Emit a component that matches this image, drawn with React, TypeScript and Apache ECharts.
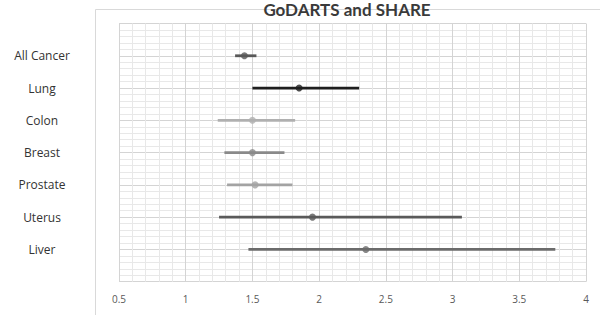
import React, { useEffect, useRef } from "react";
import * as echarts from "echarts";

const categories = ["All Cancer", "Lung", "Colon", "Breast", "Prostate", "Uterus", "Liver"];
const estimates = [1.44, 1.85, 1.5, 1.5, 1.52, 1.95, 2.35];
const lowerCI = [1.37, 1.5, 1.24, 1.29, 1.31, 1.25, 1.47];
const upperCI = [1.53, 2.3, 1.82, 1.74, 1.8, 3.07, 3.77];
const colors = ["#595959", "#1f1f1f", "#b0b0b0", "#8a8a8a", "#a3a3a3", "#5a5a5a", "#6b6b6b"];
const xTicks = [0.5, 1, 1.5, 2, 2.5, 3, 3.5, 4];
const title = "GoDARTS and SHARE";

export default function App() {
  const ref = useRef<HTMLDivElement>(null);
  useEffect(() => {
    if (!ref.current) return;
    const chart = echarts.init(ref.current, null, { renderer: "svg" });
    const n = categories.length;
    const yOf = (i: number) => n - i;
    const lineSeries = categories.map((c, i) => ({
      type: "line",
      name: c,
      data: [
        [lowerCI[i], yOf(i)],
        [upperCI[i], yOf(i)],
      ],
      showSymbol: false,
      symbol: "none",
      lineStyle: { color: colors[i], width: 2.8 },
      silent: true,
      z: 3,
    }));
    const pointSeries = {
      type: "scatter",
      data: categories.map((c, i) => ({
        value: [estimates[i], yOf(i)],
        itemStyle: { color: colors[i] },
      })),
      symbol: "circle",
      symbolSize: 7,
      z: 4,
    };
    chart.setOption({
      animation: false,
      backgroundColor: "#ffffff",
      grid: { left: 119, right: 14, top: 23.5, bottom: 33.3, containLabel: false },
      graphic: [
        {
          type: "rect",
          shape: { x: 95.5, y: 9.5, width: 540, height: 330 },
          style: { fill: "none", stroke: "#d9d9d9", lineWidth: 1 },
          silent: true,
        },
        {
          type: "text",
          x: 347,
          y: 1,
          style: {
            text: title,
            fill: "#3a3a3a",
            font: "bold 17px Lato, 'Open Sans', sans-serif",
            align: "center",
            verticalAlign: "top",
          },
          silent: true,
        },
      ],
      xAxis: {
        type: "value",
        min: 0.5,
        max: 4,
        interval: 0.5,
        axisLine: { show: false },
        axisTick: { show: false },
        axisLabel: {
          color: "#595959",
          fontSize: 10,
          fontFamily: "'Open Sans', sans-serif",
          margin: 12,
          formatter: (v: number) => (xTicks.includes(v) ? String(v) : ""),
        },
        splitLine: { show: true, lineStyle: { color: "#d4d4d4", width: 1 } },
        minorTick: { show: false, splitNumber: 5 },
        minorSplitLine: { show: true, lineStyle: { color: "#e8e8e8", width: 1 } },
      },
      yAxis: {
        type: "value",
        min: 0,
        max: 8,
        interval: 1,
        axisLine: { show: false },
        axisTick: { show: false },
        axisLabel: {
          color: "#333333",
          fontSize: 12,
          fontFamily: "'Open Sans', sans-serif",
          align: "center",
          margin: 77,
          formatter: (v: number) => {
            const idx = n - v;
            return idx >= 0 && idx < n && Number.isInteger(idx) ? categories[idx] : "";
          },
        },
        splitLine: { show: true, lineStyle: { color: "#d4d4d4", width: 1 } },
        minorTick: { show: false, splitNumber: 5 },
        minorSplitLine: { show: true, lineStyle: { color: "#e8e8e8", width: 1 } },
      },
      series: [...lineSeries, pointSeries],
    });
    return () => chart.dispose();
  }, []);
  return (
    <div
      ref={ref}
      style={{ position: "fixed", left: 0, top: 0, width: 600, height: 315, background: "#fff" }}
    />
  );
}
